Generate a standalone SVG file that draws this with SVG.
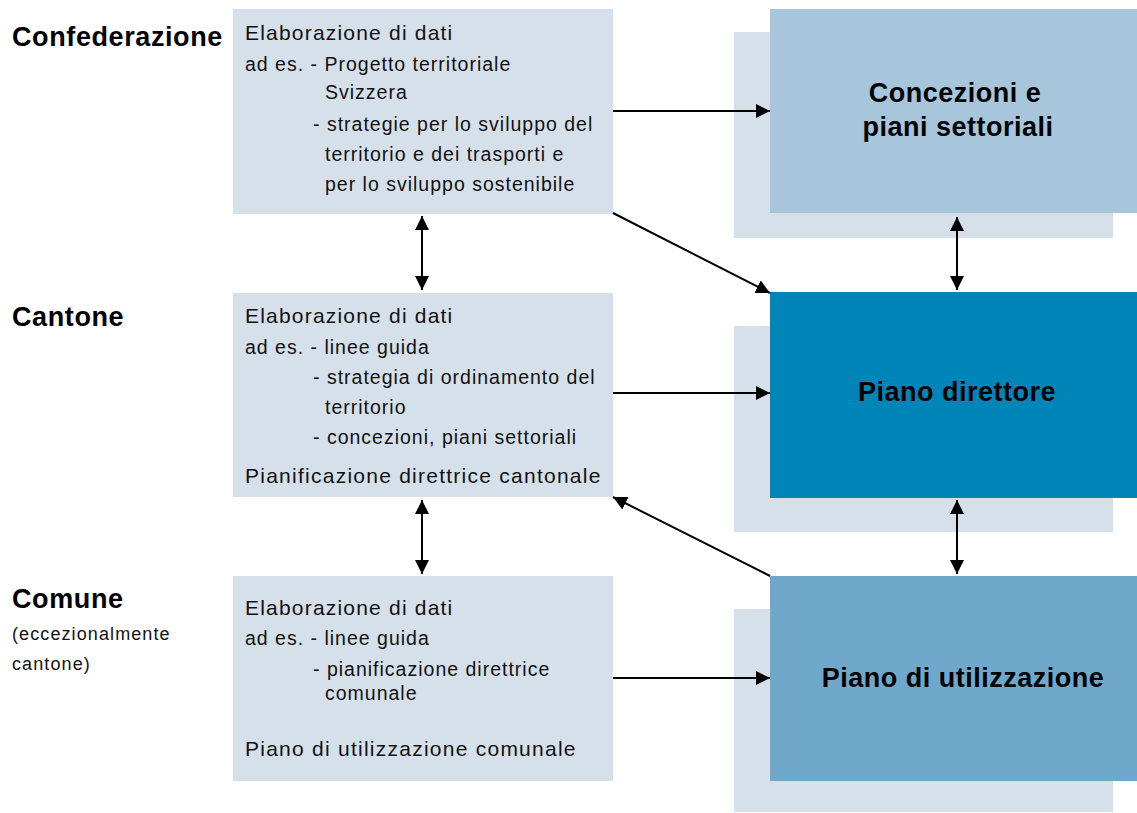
<svg xmlns="http://www.w3.org/2000/svg" width="1137" height="813" viewBox="0 0 1137 813">
<defs>
<marker id="ah" viewBox="0 0 10 10" refX="10" refY="5" markerWidth="14" markerHeight="14" markerUnits="userSpaceOnUse" orient="auto-start-reverse">
<path d="M0,0 L10,5 L0,10 z" fill="#000"/>
</marker>
<style>
.lb{fill:#d6e0ea}
.h{font-family:"Liberation Sans",Arial,sans-serif;font-size:21px;letter-spacing:1.2px;fill:#111}
.t{font-family:"Liberation Sans",Arial,sans-serif;font-size:19.5px;letter-spacing:1px;fill:#111}
.tb{font-family:"Liberation Sans",Arial,sans-serif;font-size:21px;letter-spacing:1.25px;fill:#111}
.lvl{font-family:"Liberation Sans",Arial,sans-serif;font-size:27px;font-weight:bold;letter-spacing:0.6px;fill:#000}
.sm{font-family:"Liberation Sans",Arial,sans-serif;font-size:18px;letter-spacing:1.1px;fill:#111}
.ti{font-family:"Liberation Sans",Arial,sans-serif;font-size:27px;font-weight:bold;letter-spacing:0.5px;fill:#000;text-anchor:middle}
.c{stroke:#000;stroke-width:2;fill:none;marker-end:url(#ah)}
.d{stroke:#000;stroke-width:2;fill:none;marker-end:url(#ah);marker-start:url(#ah)}
</style>
</defs>
<rect width="1137" height="813" fill="#fff"/>
<g id="levels">
<text class="lvl" x="12" y="46">Confederazione</text>
<text class="lvl" x="12" y="326">Cantone</text>
<text class="lvl" x="12" y="608">Comune</text>
<text class="sm" x="12" y="640">(eccezionalmente</text>
<text class="sm" x="12" y="670">cantone)</text>
</g>
<g id="box-conf">
<rect class="lb" x="233" y="9" width="380" height="205"/>
<text class="h" x="245" y="40">Elaborazione di dati</text>
<text class="t" x="245" y="71">ad es. - Progetto territoriale</text>
<text class="t" x="325" y="99">Svizzera</text>
<text class="t" x="313" y="131">- strategie per lo sviluppo del</text>
<text class="t" x="325" y="161">territorio e dei trasporti e</text>
<text class="t" x="325" y="191">per lo sviluppo sostenibile</text>
</g>
<g id="box-cant">
<rect class="lb" x="233" y="293" width="380" height="204"/>
<text class="h" x="245" y="323">Elaborazione di dati</text>
<text class="t" x="245" y="354">ad es. - linee guida</text>
<text class="t" x="313" y="384">- strategia di ordinamento del</text>
<text class="t" x="325" y="414">territorio</text>
<text class="t" x="313" y="444">- concezioni, piani settoriali</text>
<text class="tb" x="245" y="483">Pianificazione direttrice cantonale</text>
</g>
<g id="box-com">
<rect class="lb" x="233" y="576" width="380" height="205"/>
<text class="h" x="245" y="615">Elaborazione di dati</text>
<text class="t" x="245" y="645">ad es. - linee guida</text>
<text class="t" x="313" y="676">- pianificazione direttrice</text>
<text class="t" x="325" y="700">comunale</text>
<text class="tb" x="245" y="756">Piano di utilizzazione comunale</text>
</g>
<g id="concezioni">
<rect class="lb" x="734" y="32" width="379" height="206"/>
<rect x="770" y="9" width="367" height="204" fill="#a7c6dc"/>
<text class="ti" x="955" y="102">Concezioni e</text>
<text class="ti" x="958" y="136">piani settoriali</text>
</g>
<g id="piano-direttore">
<rect class="lb" x="734" y="326" width="379" height="206"/>
<rect x="770" y="292" width="367" height="206" fill="#0085b9"/>
<text class="ti" x="957" y="401">Piano direttore</text>
</g>
<g id="piano-utilizzazione">
<rect class="lb" x="734" y="609" width="379" height="203"/>
<rect x="770" y="576" width="367" height="205" fill="#70a8cb"/>
<text class="ti" x="963" y="687">Piano di utilizzazione</text>
</g>
<g id="connectors">
<line class="c" x1="613" y1="111" x2="770" y2="111"/>
<line class="c" x1="613" y1="393" x2="770" y2="393"/>
<line class="c" x1="613" y1="678" x2="770" y2="678"/>
<line class="c" x1="613" y1="213" x2="770" y2="293"/>
<line class="c" x1="770" y1="576" x2="613" y2="497"/>
<line class="d" x1="422" y1="216" x2="422" y2="290"/>
<line class="d" x1="422" y1="500" x2="422" y2="574"/>
<line class="d" x1="957" y1="217" x2="957" y2="290"/>
<line class="d" x1="957" y1="500" x2="957" y2="574"/>
</g>
</svg>
